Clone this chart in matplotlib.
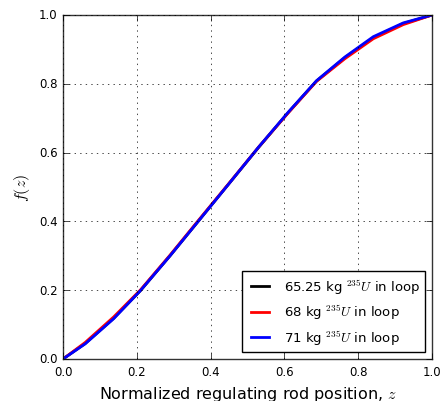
import matplotlib
matplotlib.use("Agg")
import matplotlib.pyplot as plt

plt.style.use("classic")

# Normalized rod position and integral worth fraction for each loop loading
z = [0.0, 0.06, 0.137, 0.21, 0.29, 0.37, 0.45, 0.53, 0.61, 0.687, 0.764, 0.841, 0.922, 1.0]
f_6525 = [0.0, 0.045, 0.118, 0.199, 0.300, 0.405, 0.510, 0.615, 0.716, 0.808, 0.876, 0.934, 0.975, 1.0]
f_68 = [0.0, 0.048, 0.122, 0.201, 0.302, 0.407, 0.511, 0.616, 0.715, 0.807, 0.873, 0.931, 0.972, 1.0]
f_71 = [0.0, 0.044, 0.117, 0.199, 0.300, 0.405, 0.510, 0.616, 0.717, 0.809, 0.878, 0.937, 0.977, 1.0]

labels = [r"65.25 kg $^{235}U$ in loop",
          r"68 kg $^{235}U$ in loop",
          r"71 kg $^{235}U$ in loop"]
colors = ["black", "red", "blue"]

fig = plt.figure(figsize=(4.41, 4.02), dpi=100, facecolor="white")
ax = fig.add_axes([0.1429, 0.1045, 0.8367, 0.8557])

for y, lab, c in zip([f_6525, f_68, f_71], labels, colors):
    ax.plot(z, y, color=c, lw=2, label=lab)

ax.set_xlim(0, 1)
ax.set_ylim(0, 1)
ax.set_xticks([0.0, 0.2, 0.4, 0.6, 0.8, 1.0])
ax.set_yticks([0.0, 0.2, 0.4, 0.6, 0.8, 1.0])
ax.tick_params(labelsize=8.5, length=4)
for sp in ax.spines.values():
    sp.set_color("#333333")
ax.grid(True, color="black", linestyle=":", linewidth=0.5)
ax.set_xlabel(r"Normalized regulating rod position, $z$", fontsize=11.5)
ax.set_ylabel(r"$f(z)$", fontsize=11.5)

leg = ax.legend(loc="lower right", fontsize=9.5, handlelength=2, frameon=True)
leg.get_frame().set_linewidth(1)

fig.savefig("out.png", dpi=100, facecolor="white")
